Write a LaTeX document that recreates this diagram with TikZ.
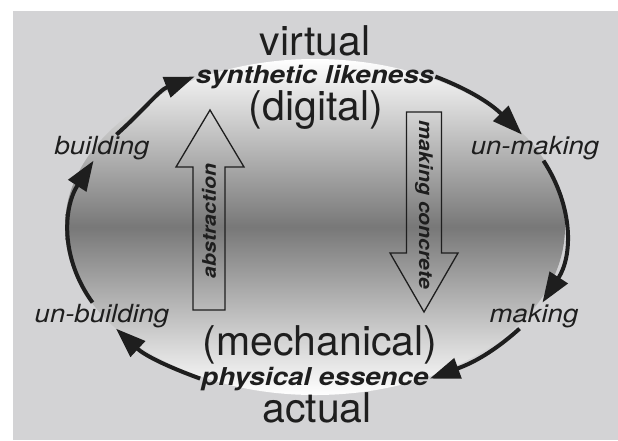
\documentclass[tikz,border=0pt]{standalone}
\usepackage{fontspec}
\setmainfont{TeX Gyre Heros}
\newfontfamily\widefont[FakeStretch=1.13]{TeX Gyre Heros}
\newfontfamily\cyclefont[FakeStretch=1.1]{TeX Gyre Heros}
\usepackage{tikz}
\usetikzlibrary{shapes.geometric, arrows.meta}
\definecolor{panelgray}{RGB}{211,211,213}
\definecolor{inkgray}{RGB}{30,30,30}

\begin{document}
\begin{tikzpicture}[
    x=1pt, y=1pt,
    bigword/.style={
        inner sep=1pt,
        text=inkgray,
        font=\fontsize{41}{41}\selectfont
    },
    keyword/.style={
        inner sep=1pt,
        text=inkgray,
        font=\widefont\bfseries\itshape\fontsize{24.6}{26}\selectfont
    },
    cycleword/.style={
        inner sep=1pt,
        text=inkgray,
        font=\cyclefont\itshape\fontsize{25}{27}\selectfont
    },
    arrowword/.style={
        inner sep=0pt,
        text=inkgray,
        font=\widefont\bfseries\itshape\fontsize{18.8}{20}\selectfont
    },
    roundarrow/.style={-{Triangle[length=30pt, width=21pt]}, line width=4pt, draw=inkgray},
    blockarrow/.style={line width=1.3pt, draw=inkgray, line join=miter}
]

    % =========================================================
    % PANEL AND SHADED OVAL
    % =========================================================
    \useasboundingbox (0,0) rectangle (618,-440);
    \fill [panelgray] (13,-11) rectangle (618,-440);

    \node [ellipse, minimum width=500pt, minimum height=336pt, inner sep=0pt,
        top color=white, bottom color=white, middle color=black!53] (ell) at (315,-227) {};

    % =========================================================
    % POLES AND CYCLE STAGES
    % =========================================================
    \node [bigword, anchor=base] (virt) at (315,-55) {virtual};
    \node [keyword, anchor=base] (synth) at (315,-83) {synthetic likeness};
    \node [bigword, anchor=base] (digit) at (316,-120) {(digital)};

    \node [bigword, anchor=base] (mech) at (320,-355) {(mechanical)};
    \node [keyword, anchor=base] (phys) at (315,-385) {physical essence};
    \node [bigword, anchor=base] (act) at (317,-422) {actual};

    \node [cycleword, anchor=base] (build) at (102,-154) {building};
    \node [cycleword, anchor=base] (unbuild) at (102,-322) {un-building};
    \node [cycleword, anchor=base] (unmake) at (535,-154) {un-making};
    \node [cycleword, anchor=base] (make) at (534,-322) {making};

    % =========================================================
    % HOLLOW BLOCK ARROWS
    % =========================================================
    \draw [blockarrow] (193,-310) -- (193,-167) -- (176,-167) -- (210,-110)
        -- (244,-167) -- (225,-167) -- (225,-310) -- cycle;
    \node [arrowword, rotate=90] (abstr) at (209,-221) {abstraction};

    \draw [blockarrow] (406.5,-112) -- (441.5,-112) -- (441.5,-253) -- (458,-253)
        -- (424,-312) -- (390,-253) -- (406.5,-253) -- cycle;
    \node [arrowword, rotate=-90] (concr) at (424,-205) {making concrete};

    % =========================================================
    % CLOCKWISE CYCLE ARROWS
    % =========================================================
    \draw [roundarrow] (unbuild) to[out=126, in=237] (build);
    \draw [roundarrow] (build) to[out=42, in=201] (synth.west);
    \draw [roundarrow] (synth.east) to[out=-21, in=135] (unmake);
    \draw [roundarrow] (unmake) to[out=-57, in=57] (make);
    \draw [roundarrow] (make) to[out=-138, in=20] (phys.east);
    \draw [roundarrow] (phys.west) to[out=160, in=-43] (unbuild);

\end{tikzpicture}
\end{document}
